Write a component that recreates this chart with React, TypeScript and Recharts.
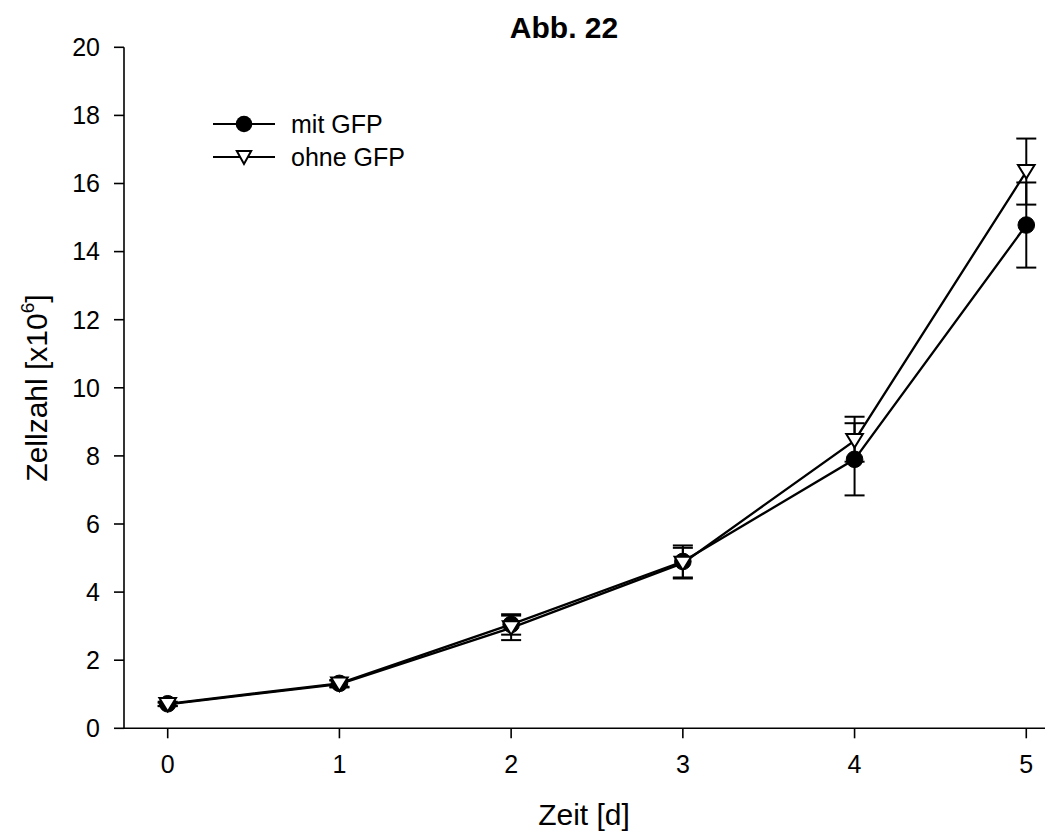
import React from 'react';
import { ComposedChart, Line, XAxis, YAxis, ErrorBar, Legend, Customized } from 'recharts';

const days = [0, 1, 2, 3, 4, 5];
const mitGFP = [0.72, 1.32, 3.05, 4.9, 7.9, 14.78];
const mitGFPErr = [0.06, 0.1, 0.3, 0.47, 1.06, 1.25];
const ohneGFP = [0.7, 1.3, 2.95, 4.85, 8.45, 16.35];
const ohneGFPErr = [[0.05, 0.05], [0.1, 0.1], [0.36, 0.36], [0.45, 0.45], [0.62, 0.7], [0.97, 0.97]];
const xTicks = [0, 1, 2, 3, 4, 5];
const yTicks = [0, 2, 4, 6, 8, 10, 12, 14, 16, 18, 20];
const seriesNames = ['mit GFP', 'ohne GFP'];
const titleText = 'Abb. 22';
const xLabelText = 'Zeit [d]';

const data = days.map((d, i) => ({
  day: d,
  mit: mitGFP[i],
  mitErr: mitGFPErr[i],
  ohne: ohneGFP[i],
  ohneErr: ohneGFPErr[i],
}));

const FONT = '"Liberation Sans", Arial, Helvetica, sans-serif';

const TriangleDot = (props: any) => {
  const { cx, cy } = props;
  if (cx == null || cy == null) return null;
  const hw = 8.3;
  const pts = `${cx - hw},${cy - 6.5} ${cx + hw},${cy - 6.5} ${cx},${cy + 7}`;
  return <polygon points={pts} fill="#fff" stroke="#000" strokeWidth={2} strokeLinejoin="miter" />;
};

const CircleDot = (props: any) => {
  const { cx, cy } = props;
  if (cx == null || cy == null) return null;
  return <circle cx={cx} cy={cy} r={8.3} fill="#000" stroke="#000" strokeWidth={1} />;
};

const LegendContent = () => (
  <svg width={240} height={80} style={{ display: 'block', overflow: 'visible' }}>
    <line x1={8} y1={32} x2={70} y2={32} stroke="#000" strokeWidth={2.2} />
    <circle cx={39} cy={32} r={8.3} fill="#000" />
    <text x={86} y={41} fontSize={25} fontFamily={FONT} fill="#000">{seriesNames[0]}</text>
    <line x1={8} y1={65} x2={70} y2={65} stroke="#000" strokeWidth={2.2} />
    <polygon points={`${39 - 7.2},${65 - 6} ${39 + 7.2},${65 - 6} ${39},${65 + 7}`} fill="#fff" stroke="#000" strokeWidth={2} />
    <text x={86} y={74} fontSize={25} fontFamily={FONT} fill="#000">{seriesNames[1]}</text>
  </svg>
);

const YLabel = () => (
  <text
    x={39}
    y={380}
    transform="rotate(-90, 39, 380)"
    textAnchor="middle"
    fontSize={30}
    fontFamily={FONT}
    fill="#000"
  >
    Zellzahl [x10<tspan fontSize={19} dy={-13}>6</tspan><tspan dy={13}>]</tspan>
  </text>
);

const XLabel = () => (
  <text x={576} y={817} textAnchor="middle" fontSize={30} fontFamily={FONT} fill="#000">
    {xLabelText}
  </text>
);

const Title = () => (
  <text x={556} y={30} textAnchor="middle" fontSize={30} fontWeight="bold" fontFamily={FONT} fill="#000">
    {titleText}
  </text>
);

export default function App() {
  return (
    <div style={{ width: 1050, height: 830, background: '#fff' }}>
      <ComposedChart
        width={1050}
        height={830}
        data={data}
        margin={{ top: 39.3, right: 13, left: 16, bottom: 49.7 }}
        style={{ fontFamily: FONT }}
      >
        <XAxis
          dataKey="day"
          type="number"
          domain={[-0.2545, 5.109]}
          allowDataOverflow
          ticks={xTicks}
          height={60}
          tickSize={10}
          tickMargin={17}
          axisLine={{ stroke: '#000', strokeWidth: 1.6 }}
          tickLine={{ stroke: '#000', strokeWidth: 1.6 }}
          tick={{ fill: '#000', fontSize: 25, fontFamily: FONT }}
        />
        <YAxis
          type="number"
          domain={[0, 20]}
          ticks={yTicks}
          width={100}
          tickSize={10}
          tickMargin={14}
          axisLine={{ stroke: '#000', strokeWidth: 1.6 }}
          tickLine={{ stroke: '#000', strokeWidth: 1.6 }}
          tick={{ fill: '#000', fontSize: 25, fontFamily: FONT }}
          interval={0}
        />
        <Legend
          layout="vertical"
          align="center"
          verticalAlign="middle"
          content={<LegendContent />}
          wrapperStyle={{ left: 197, top: 84, width: 240, height: 80 }}
        />
        <Line
          type="linear"
          dataKey="mit"
          name={seriesNames[0]}
          stroke="#000"
          strokeWidth={2.3}
          dot={(p: any) => <CircleDot key={`c${p.index}`} {...p} />}
          activeDot={false}
          isAnimationActive={false}
        >
          <ErrorBar dataKey="mitErr" direction="y" width={10} stroke="#000" strokeWidth={2} />
        </Line>
        <Line
          type="linear"
          dataKey="ohne"
          name={seriesNames[1]}
          stroke="#000"
          strokeWidth={2.3}
          dot={(p: any) => <TriangleDot key={`t${p.index}`} {...p} />}
          activeDot={false}
          isAnimationActive={false}
        >
          <ErrorBar dataKey="ohneErr" direction="y" width={10} stroke="#000" strokeWidth={2} />
        </Line>
        <Customized component={<Title />} />
        <Customized component={<YLabel />} />
        <Customized component={<XLabel />} />
      </ComposedChart>
    </div>
  );
}
